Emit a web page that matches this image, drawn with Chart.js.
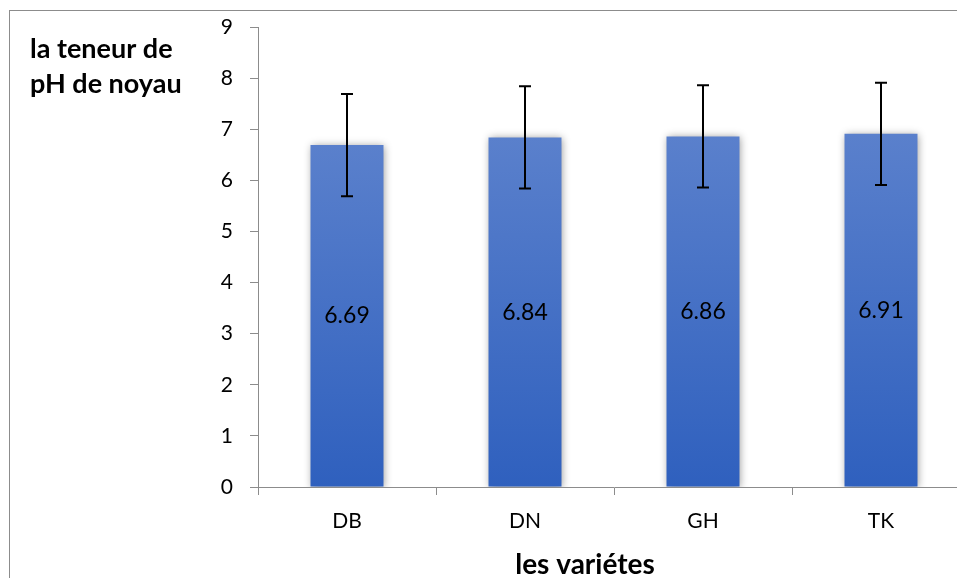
<!DOCTYPE html>
<html lang="fr">
<head>
    <meta charset="UTF-8">
    <title>pH de noyau</title>
    <script src="https://cdn.jsdelivr.net/npm/chart.js@4.4.0/dist/chart.umd.min.js"></script>
    <style>
        body {
            margin: 0;
            background-color: white;
            overflow: hidden;
            font-family: Lato, "Open Sans", sans-serif;
        }
        .frame {
            position: absolute;
            left: 9px;
            top: 10px;
            width: 1000px;
            height: 600px;
            border: 1px solid #8c8c8c;
        }
        .wrap {
            position: absolute;
            left: 0;
            top: 0;
            width: 985px;
            height: 578px;
        }
    </style>
</head>
<body>
<div class="frame"></div>
<div class="wrap">
    <canvas id="phChart" width="985" height="578"></canvas>
</div>
<script>
    // data
    const varietes = ['DB', 'DN', 'GH', 'TK'];
    const phValues = [6.69, 6.84, 6.86, 6.91];
    const phErrors = [1.0, 1.0, 1.0, 1.0];
    const yTicks = [0, 1, 2, 3, 4, 5, 6, 7, 8, 9];

    const yTitle = ['la teneur de', 'pH de noyau'];
    const xTitle = 'les variétes';

    const fontFamily = 'Lato, "Open Sans", sans-serif';

    function barGradient(context) {
        const chart = context.chart;
        if (!chart.chartArea) return '#4472c4';
        const y = chart.scales.y;
        const v = context.raw;
        const g = chart.ctx.createLinearGradient(0, y.getPixelForValue(v), 0, y.getPixelForValue(0));
        g.addColorStop(0, '#5a80cc');
        g.addColorStop(1, '#2f60be');
        return g;
    }

    // soft shadow round the bars
    const barShadow = {
        id: 'barShadow',
        beforeDatasetsDraw(chart) {
            const ctx = chart.ctx;
            ctx.save();
            ctx.shadowColor = 'rgba(0,0,0,0.4)';
            ctx.shadowBlur = 8;
            ctx.shadowOffsetX = 1;
            ctx.shadowOffsetY = 1;
        },
        afterDatasetsDraw(chart) {
            chart.ctx.restore();
        }
    };

    // error bars, value labels and axis titles
    const extras = {
        id: 'extras',
        afterDatasetsDraw(chart) {
            const ctx = chart.ctx;
            const x = chart.scales.x;
            const y = chart.scales.y;
            ctx.save();
            ctx.strokeStyle = '#000';
            ctx.lineWidth = 2;
            phValues.forEach((v, i) => {
                const px = x.getPixelForValue(i);
                const top = y.getPixelForValue(v + phErrors[i]);
                const bot = y.getPixelForValue(v - phErrors[i]);
                ctx.beginPath();
                ctx.moveTo(px, top);
                ctx.lineTo(px, bot);
                ctx.moveTo(px - 6, top);
                ctx.lineTo(px + 6, top);
                ctx.moveTo(px - 6, bot);
                ctx.lineTo(px + 6, bot);
                ctx.stroke();
            });
            ctx.fillStyle = '#000';
            ctx.font = '23px ' + fontFamily;
            ctx.textAlign = 'center';
            ctx.textBaseline = 'middle';
            phValues.forEach((v, i) => {
                ctx.fillText(v.toFixed(2), x.getPixelForValue(i), y.getPixelForValue(v / 2));
            });
            ctx.restore();
        },
        afterDraw(chart) {
            const ctx = chart.ctx;
            ctx.save();
            ctx.fillStyle = '#000';
            ctx.font = 'bold 27px ' + fontFamily;
            ctx.textAlign = 'left';
            ctx.textBaseline = 'alphabetic';
            ctx.fillText(yTitle[0], 30, 58);
            ctx.fillText(yTitle[1], 30, 93);
            ctx.textAlign = 'center';
            ctx.font = 'bold 28px ' + fontFamily;
            ctx.fillText(xTitle, 585, 574);
            ctx.restore();
        }
    };

    new Chart(document.getElementById('phChart').getContext('2d'), {
        type: 'bar',
        data: {
            labels: varietes,
            datasets: [{
                label: 'pH',
                data: phValues,
                backgroundColor: barGradient,
                borderWidth: 0,
                categoryPercentage: 1,
                barPercentage: 0.41
            }]
        },
        options: {
            responsive: false,
            animation: false,
            layout: { padding: { left: 0, right: 15, top: 27, bottom: 0 } },
            plugins: {
                legend: { display: false },
                tooltip: { enabled: false }
            },
            scales: {
                x: {
                    offset: true,
                    grid: {
                        offset: true,
                        drawOnChartArea: false,
                        color: '#8c8c8c',
                        tickLength: 8
                    },
                    border: { color: '#8c8c8c', width: 1 },
                    ticks: {
                        color: '#000',
                        padding: 14,
                        font: { size: 21, family: fontFamily }
                    },
                    afterFit(scale) {
                        scale.height = 91;
                        scale.paddingLeft = 0;
                        scale.paddingRight = 0;
                    }
                },
                y: {
                    min: 0,
                    max: 9,
                    afterBuildTicks(scale) { scale.ticks = yTicks.map(v => ({ value: v })); },
                    grid: {
                        drawOnChartArea: false,
                        color: '#8c8c8c',
                        tickLength: 8
                    },
                    border: { color: '#8c8c8c', width: 1 },
                    ticks: {
                        color: '#000',
                        padding: 17,
                        font: { size: 21, family: fontFamily }
                    },
                    afterFit(scale) {
                        scale.width = 258;
                        scale.paddingTop = 0;
                        scale.paddingBottom = 0;
                    }
                }
            }
        },
        plugins: [barShadow, extras]
    });
</script>
</body>
</html>
